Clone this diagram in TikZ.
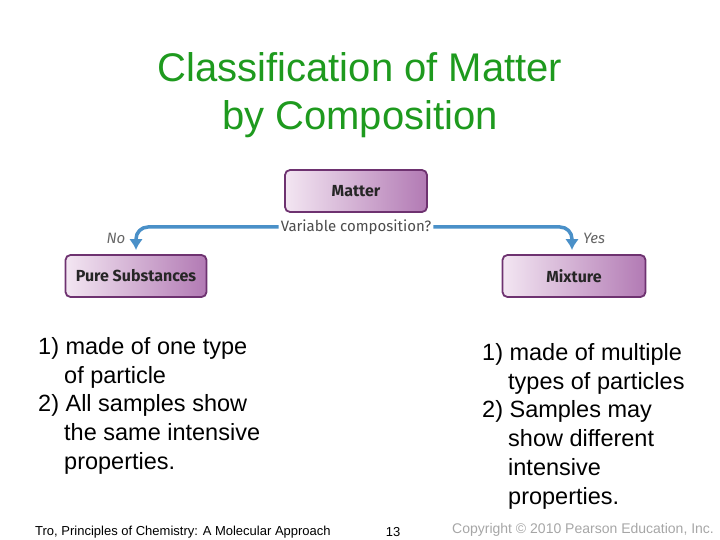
\documentclass[tikz,border=0pt]{standalone}
\usepackage{fontspec}
\setmainfont{Liberation Sans}
\newfontfamily\boxfont{Fira Sans}
\usetikzlibrary{arrows.meta}
\definecolor{ttl}{HTML}{1E9A1E}
\definecolor{arr}{HTML}{4A90C8}
\definecolor{bord}{HTML}{6E3270}
\definecolor{bl}{HTML}{F3E6F2}
\definecolor{br}{HTML}{B27AB4}
\tikzset{
 cbox/.style={draw=bord,line width=1.8pt,rounded corners=5pt,left color=bl,right color=br,minimum height=42pt,font=\boxfont\bfseries\fontsize{16}{18}\selectfont,text=black!85},
 flow/.style={draw=arr,line width=3.5pt,rounded corners=12pt,-{Latex[length=11pt,width=14pt]}},
 body/.style={anchor=north west,align=left,font=\fontsize{23.5}{28.8}\selectfont,inner sep=0pt}
}
\begin{document}
\begin{tikzpicture}[x=1pt,y=-1pt]
\useasboundingbox (0,0) rectangle (720,540);
\node[text=ttl,align=center,font=\fontsize{40}{48}\selectfont] (title) at (360,95) {Classification of Matter\\by Composition};
\node[cbox,minimum width=142pt] (matter) at (356,191) {Matter};
\node[cbox,minimum width=141pt] (pure) at (136,276) {Pure Substances};
\node[cbox,minimum width=143pt] (mix) at (574,276) {Mixture};
\node[font=\boxfont\fontsize{15}{17}\selectfont,text=black!70,inner sep=2pt] (q) at (356,227) {Variable composition?};
\draw[flow] (q.west) -- (136,227) -- (136,250);
\draw[flow] (q.east) -- (572,227) -- (572,250);
\node[font=\boxfont\itshape\fontsize{15}{17}\selectfont,text=black!60] (no) at (116,238) {No};
\node[font=\boxfont\itshape\fontsize{15}{17}\selectfont,text=black!60] (yes) at (594,238) {Yes};
\node[body] (lt) at (38,337) {1) made of one type\\\hspace*{26pt}of particle\\2) All samples show\\\hspace*{26pt}the same intensive\\\hspace*{26pt}properties.};
\node[body] (rt) at (482,343) {1) made of multiple\\\hspace*{26pt}types of particles\\2) Samples may\\\hspace*{26pt}show different\\\hspace*{26pt}intensive\\\hspace*{26pt}properties.};
\node[anchor=west,font=\fontsize{13}{15}\selectfont,inner sep=0pt] (ft) at (35,532) {Tro, Principles of Chemistry: A Molecular Approach};
\node[font=\fontsize{13}{15}\selectfont,inner sep=0pt] (pg) at (393,532) {13};
\node[anchor=west,font=\fontsize{14}{15}\selectfont,text=black!35,inner sep=0pt] (cp) at (452,530) {Copyright \textcopyright{} 2010 Pearson Education, Inc.};
\end{tikzpicture}
\end{document}
